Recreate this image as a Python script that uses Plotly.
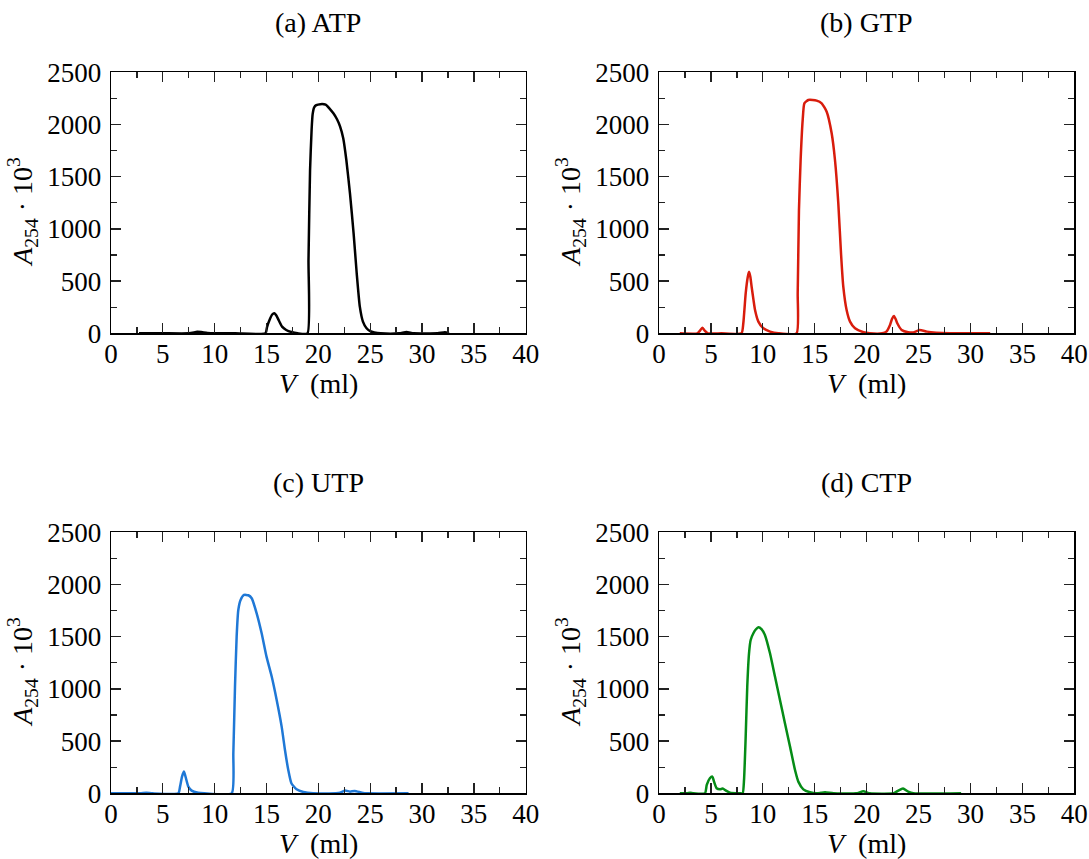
import plotly.graph_objects as go

# ---------------- data ----------------
atp_v = [2.7, 5, 7.5, 8.0, 8.3, 8.7, 9.3, 10, 12, 14.9, 15.05, 15.3, 15.55, 15.75, 15.95, 16.2, 16.5, 16.9, 17.4, 18.0,
         18.95, 19.05, 19.2, 19.35, 19.45, 19.6, 19.8, 20.2, 20.7, 21.1, 21.45, 21.8, 22.1, 22.4, 22.7, 23.05, 23.4,
         23.7, 24.0, 24.3, 24.65, 25.0, 25.4, 26.0, 27.8, 28.5, 29.2, 31.5, 32.2, 32.6]
atp_a = [0, 0, 0, 8, 15, 12, 4, 0, 0, 0, 60, 130, 180, 192, 170, 120, 64, 32, 12, 0,
         0, 700, 1565, 1950, 2100, 2165, 2185, 2195, 2190, 2150, 2107, 2050, 1980, 1868, 1660, 1341, 958,
         575, 255, 112, 48, 20, 8, 0, 0, 12, 0, 0, 10, 0]

gtp_v = [2.0, 3.7, 3.95, 4.17, 4.4, 4.7, 6, 7.95, 8.12, 8.35, 8.55, 8.67, 8.8, 8.92, 9.1, 9.25, 9.57, 10.05, 10.7,
         11.5, 13.25, 13.36, 13.48, 13.64, 13.84, 14.0, 14.38, 14.8, 15.18, 15.67, 16.15, 16.63, 16.95, 17.27,
         17.53, 17.75, 18.07, 18.4, 18.88, 19.7, 20.3, 21.5, 21.9, 22.25, 22.45, 22.63, 22.8, 22.95, 23.37, 24.0,
         24.5, 25.1, 25.8, 26.7, 28, 31.9]
gtp_a = [0, 0, 25, 54, 25, 0, 0, 0, 96, 383, 540, 590, 540, 447, 320, 223, 112, 48, 16,
         0, 0, 383, 1181, 1660, 2044, 2203, 2235, 2235, 2229, 2203, 2123, 1916, 1660, 1245,
         766, 447, 223, 112, 48, 10, 0, 0, 16, 80, 140, 166, 135, 96, 32, 10,
         8, 32, 16, 6, 0, 0]

utp_v = [0, 2.8, 3.4, 4.0, 6.5, 6.66, 6.85, 7.04, 7.23, 7.46, 7.78, 8.4, 9.0, 11.64, 11.8, 11.96, 12.12, 12.28,
         12.5, 12.83, 13.25, 13.57, 14.05, 14.53, 15.0, 15.5, 15.98, 16.46, 16.78, 17.1, 17.4, 17.9, 18.55, 19.5,
         21.7, 22.1, 22.57, 23.05, 23.5, 24.2, 24.7, 28.7]
utp_a = [0, 0, 5, 0, 0, 64, 160, 208, 144, 64, 26, 6, 0, 0, 383, 1022, 1501, 1756,
         1852, 1900, 1897, 1868, 1724, 1533, 1309, 1118, 894, 639, 415, 223, 96, 38, 13, 0,
         0, 6, 26, 16, 22, 6, 0, 0]

ctp_v = [2.0, 2.7, 3.0, 3.3, 4.43, 4.6, 4.9, 5.14, 5.3, 5.55, 5.87, 6.13, 6.45, 6.84, 7.8, 8.06, 8.19, 8.35, 8.5,
         8.67, 8.83, 9.09, 9.34, 9.57, 9.89, 10.2, 10.69, 11.17, 11.65, 12.13, 12.62, 13.1, 13.42, 13.9, 14.54,
         15.2, 15.6, 16.0, 16.8, 19.0, 19.68, 20.3, 22.6, 23.05, 23.5, 24.0, 24.5, 29.1]
ctp_a = [0, 0, 6, 0, 0, 80, 144, 160, 112, 48, 38, 45, 26, 6, 0, 0, 128, 543, 1022,
         1341, 1469, 1533, 1571, 1590, 1571, 1517, 1341, 1118, 894, 671, 447, 223, 112, 38, 10,
         0, 5, 10, 0, 0, 19, 0, 0, 26, 45, 16, 0, 0]

panel_titles = ["(a) ATP", "(b) GTP", "(c) UTP", "(d) CTP"]
series = [(atp_v, atp_a), (gtp_v, gtp_a), (utp_v, utp_a), (ctp_v, ctp_a)]
colors = ["#000000", "#d81c0c", "#1f78d6", "#058c16"]

x_ticks = [0, 5, 10, 15, 20, 25, 30, 35, 40]
y_ticks = [0, 500, 1000, 1500, 2000, 2500]

# ---------------- layout ----------------
W, H = 1089, 859
FONT = "Liberation Serif, serif"
FS = 27
FS_T = 28

# pixel boxes (left, right, top, bottom)
boxes = [(111, 525.7, 72.3, 333.3), (659, 1074.3, 72.3, 333.3),
         (111, 525.7, 532.3, 793.3), (659, 1074.3, 532.3, 793.3)]

fig = go.Figure()
layout = dict(template="none", width=W, height=H, margin=dict(l=0, r=0, t=0, b=0, pad=0),
              paper_bgcolor="white", plot_bgcolor="white", showlegend=False,
              font=dict(family=FONT, size=FS, color="black"))
annotations = []

for i, ((v, a), col, title, (l, r, t, b)) in enumerate(zip(series, colors, panel_titles, boxes)):
    n = "" if i == 0 else str(i + 1)
    fig.add_trace(go.Scatter(x=v, y=a, mode="lines",
                             line=dict(color=col, width=2.5, shape="spline", smoothing=0.5),
                             xaxis="x" + n, yaxis="y" + n, hoverinfo="skip"))
    common = dict(showline=True, linecolor="black", linewidth=1.4, mirror="allticks",
                  ticks="inside", ticklen=10, tickwidth=1.3, tickcolor="#222",
                  showgrid=False, zeroline=False, layer="above traces", automargin=False,
                  tickfont=dict(family=FONT, size=FS, color="black"))
    layout["xaxis" + n] = dict(common, domain=[l / W, r / W], range=[0, 40], anchor="y" + n,
                               tickmode="array", tickvals=x_ticks, ticktext=[str(x) for x in x_ticks],
                               ticklabelstandoff=-4,
                               minor=dict(ticks="inside", ticklen=6, tickwidth=1.3, tickcolor="#222",
                                          tickvals=[2.5 + 5 * k for k in range(8)]))
    layout["yaxis" + n] = dict(common, domain=[1 - b / H, 1 - t / H], range=[0, 2500], anchor="x" + n,
                               tickmode="array", tickvals=y_ticks, ticktext=[str(y) for y in y_ticks],
                               ticklabelstandoff=3,
                               minor=dict(ticks="inside", ticklen=6, tickwidth=1.3, tickcolor="#222",
                                          tickvals=[250 + 500 * k for k in range(5)]))
    cx = (l + r) / 2
    annotations.append(dict(text=title, x=cx / W, y=1 - (t - 50) / H, xref="paper", yref="paper",
                            showarrow=False, xanchor="center", yanchor="middle",
                            font=dict(family=FONT, size=FS_T)))
    annotations.append(dict(text="<i>V</i>  (ml)", x=cx / W, y=1 - (b + 50) / H, xref="paper", yref="paper",
                            showarrow=False, xanchor="center", yanchor="middle",
                            font=dict(family=FONT, size=FS_T)))
    annotations.append(dict(text="<i>A</i><sub>254</sub> · 10<sup>3</sup>", x=(l - 88) / W,
                            y=1 - ((t + b) / 2 + 9) / H, xref="paper", yref="paper",
                            showarrow=False, xanchor="center", yanchor="middle", textangle=-90,
                            font=dict(family=FONT, size=FS_T)))

layout["annotations"] = annotations
fig.update_layout(**layout)
fig.write_html("out.html", config={"displayModeBar": False, "staticPlot": True},
               post_script="document.body.style.margin='0';document.body.style.overflow='hidden';")
